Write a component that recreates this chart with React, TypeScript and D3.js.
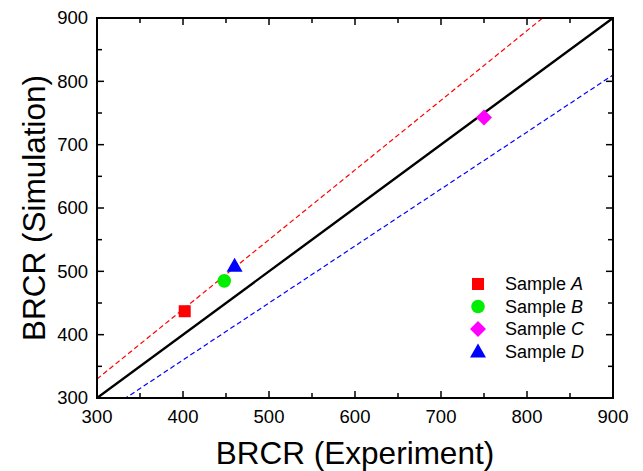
import React from "react";
import * as d3 from "d3";

const sampleNames = ["A", "B", "C", "D"];
const experiment = [402, 448, 750, 460];
const simulation = [437, 485, 743, 509];
const sampleColors = ["#ff0000", "#00ee00", "#ff00ff", "#0000ff"];
const sampleShapes = ["square", "circle", "diamond", "triangle"];
const xTicks = [300, 400, 500, 600, 700, 800, 900];
const yTicks = [300, 400, 500, 600, 700, 800, 900];
const minorTicks = [350, 450, 550, 650, 750, 850];
const refLines = [
  { factor: 1.0, color: "#000000", dash: "", width: 2.4 },
  { factor: 1.1, color: "#ff0000", dash: "5,3", width: 1.2 },
  { factor: 0.9, color: "#0000ff", dash: "5,3", width: 1.2 },
];

const W = 643;
const H = 471;
const L = 97, R = 613, T = 18, B = 398;

function marker(shape: string, cx: number, cy: number, color: string, key: string | number) {
  if (shape === "square") return <rect key={key} x={cx - 6} y={cy - 6} width={12} height={12} fill={color} />;
  if (shape === "circle") return <circle key={key} cx={cx} cy={cy} r={6.8} fill={color} />;
  if (shape === "diamond") return <path key={key} d={`M${cx},${cy - 8}L${cx + 8},${cy}L${cx},${cy + 8}L${cx - 8},${cy}Z`} fill={color} />;
  return <path key={key} d={`M${cx},${cy - 8}L${cx + 8},${cy + 6}L${cx - 8},${cy + 6}Z`} fill={color} />;
}

export default function App() {
  const x = d3.scaleLinear().domain([300, 900]).range([L, R]);
  const y = d3.scaleLinear().domain([300, 900]).range([B, T]);
  const font = "Liberation Sans, Arial, Helvetica, sans-serif";

  const lineGen = d3.line<[number, number]>().x((d) => x(d[0])).y((d) => y(d[1]));

  return (
    <svg width={W} height={H} style={{ position: "absolute", left: 0, top: 0 }} fontFamily={font}>
      <defs>
        <clipPath id="plot">
          <rect x={L} y={T} width={R - L} height={B - T} />
        </clipPath>
      </defs>
      <g clipPath="url(#plot)">
        {refLines.map((rl, i) => {
          const pts: [number, number][] = [[300, 300 * rl.factor], [900, 900 * rl.factor]];
          return (
            <path key={i} d={lineGen(pts) || ""} stroke={rl.color} strokeWidth={rl.width}
              strokeDasharray={rl.dash || undefined} fill="none" />
          );
        })}
      </g>
      {experiment.map((ex, i) => marker(sampleShapes[i], x(ex), y(simulation[i]), sampleColors[i], "m" + i))}
      <g stroke="#000" strokeWidth={1.5}>
        {xTicks.map((t) => (
          <g key={"xt" + t}>
            <line x1={x(t)} x2={x(t)} y1={B} y2={B - 7} />
            <line x1={x(t)} x2={x(t)} y1={T} y2={T + 7} />
          </g>
        ))}
        {minorTicks.map((t) => (
          <g key={"xm" + t}>
            <line x1={x(t)} x2={x(t)} y1={B} y2={B - 5} />
            <line x1={x(t)} x2={x(t)} y1={T} y2={T + 5} />
            <line y1={y(t)} y2={y(t)} x1={L} x2={L + 5} />
            <line y1={y(t)} y2={y(t)} x1={R} x2={R - 5} />
          </g>
        ))}
        {yTicks.map((t) => (
          <g key={"yt" + t}>
            <line y1={y(t)} y2={y(t)} x1={L} x2={L + 7} />
            <line y1={y(t)} y2={y(t)} x1={R} x2={R - 7} />
          </g>
        ))}
      </g>
      <rect x={L} y={T} width={R - L} height={B - T} fill="none" stroke="#000" strokeWidth={2} />
      {xTicks.map((t) => (
        <text key={"xl" + t} x={x(t)} y={B + 25} textAnchor="middle" fontSize={18.5} fill="#000">{t}</text>
      ))}
      {yTicks.map((t) => (
        <text key={"yl" + t} x={L - 9} y={y(t)} dy="0.35em" textAnchor="end" fontSize={18.5} fill="#000">{t}</text>
      ))}
      <text x={(L + R) / 2} y={464} textAnchor="middle" fontSize={31.5} fill="#000">BRCR (Experiment)</text>
      <text transform={`translate(45,${(T + B) / 2}) rotate(-90)`} textAnchor="middle" fontSize={31.5} fill="#000">BRCR (Simulation)</text>
      {sampleNames.map((n, i) => {
        const ly = 284 + i * 22.5;
        return (
          <g key={"lg" + i}>
            {marker(sampleShapes[i], 478, ly, sampleColors[i], "lm" + i)}
            <text x={505} y={ly} dy="0.35em" fontSize={18} fill="#000">
              Sample <tspan fontStyle="italic">{n}</tspan>
            </text>
          </g>
        );
      })}
    </svg>
  );
}
